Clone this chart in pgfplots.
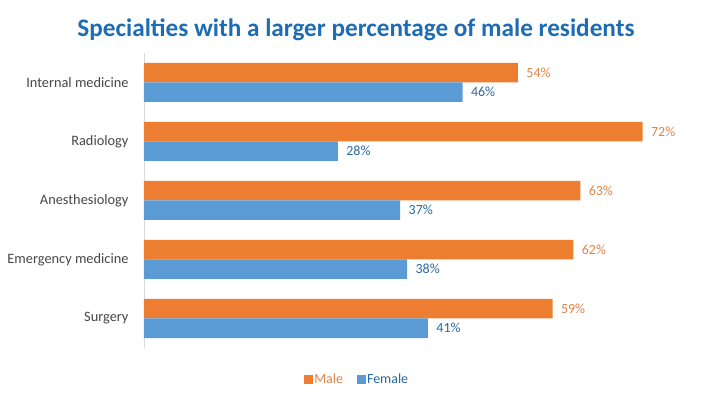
\documentclass[border=0pt]{standalone}
\usepackage{pgfplots}
\pgfplotsset{compat=1.18}
\usepackage{fontspec}
\setmainfont{Carlito}
\definecolor{maleC}{RGB}{237,125,49}
\definecolor{femaleC}{RGB}{91,155,213}
\definecolor{titleC}{RGB}{30,108,180}
\definecolor{maleT}{RGB}{222,132,72}
\definecolor{femaleT}{RGB}{40,105,160}
\definecolor{tickT}{RGB}{70,70,70}
\begin{document}
\begin{tikzpicture}
\useasboundingbox (-144bp,-51bp) rectangle (563bp,348bp);
\begin{axis}[
  at={(0,0)}, anchor=south west,
  scale only axis, width=554bp, height=295bp,
  xbar, bar width=19.5bp,
  xmin=0, xmax=80, ymin=-0.5, ymax=4.5,
  ytick={0,1,2,3,4},
  yticklabels={Surgery,Emergency medicine,Anesthesiology,Radiology,Internal medicine},
  xtick=\empty,
  axis lines*=left,
  x axis line style={draw=none},
  y axis line style={draw={rgb,255:red,217;green,217;blue,217}, line width=0.8pt},
  major tick length=0pt,
  /pgf/number format/assume math mode=true,
  yticklabel style={font=\fontsize{14.4}{16}\selectfont, text=tickT, xshift=-12bp},
  nodes near coords={\pgfmathprintnumber{\pgfplotspointmeta}\%},
  nodes near coords align=horizontal,
  every node near coord/.append style={font=\fontsize{14}{16}\selectfont, xshift=5bp},
  legend style={at={(0.384,-0.108)}, anchor=center, draw=none, legend columns=2,
    font=\fontsize{14}{16}\selectfont, /tikz/every even column/.append style={column sep=12bp},
    nodes={inner xsep=1.5bp}},
  legend image code/.code={\fill[#1] (0bp,-4.5bp) rectangle (9bp,4.5bp);},
  clip=false,
]
\addplot[fill=maleC, draw=none, bar shift=9.75bp,
  every node near coord/.append style={text=maleT}]
  coordinates {(59,0) (62,1) (63,2) (72,3) (54,4)};
\addlegendentry{\textcolor{maleT}{Male}}
\addplot[fill=femaleC, draw=none, bar shift=-9.75bp,
  every node near coord/.append style={text=femaleT}]
  coordinates {(41,0) (38,1) (37,2) (28,3) (46,4)};
\addlegendentry{\textcolor{femaleT}{Female}}
\end{axis}
\node[font=\bfseries\fontsize{25.3}{30}\selectfont, text=titleC] at (212bp,318bp) {Specialties with a larger percentage of male residents};
\end{tikzpicture}
\end{document}
